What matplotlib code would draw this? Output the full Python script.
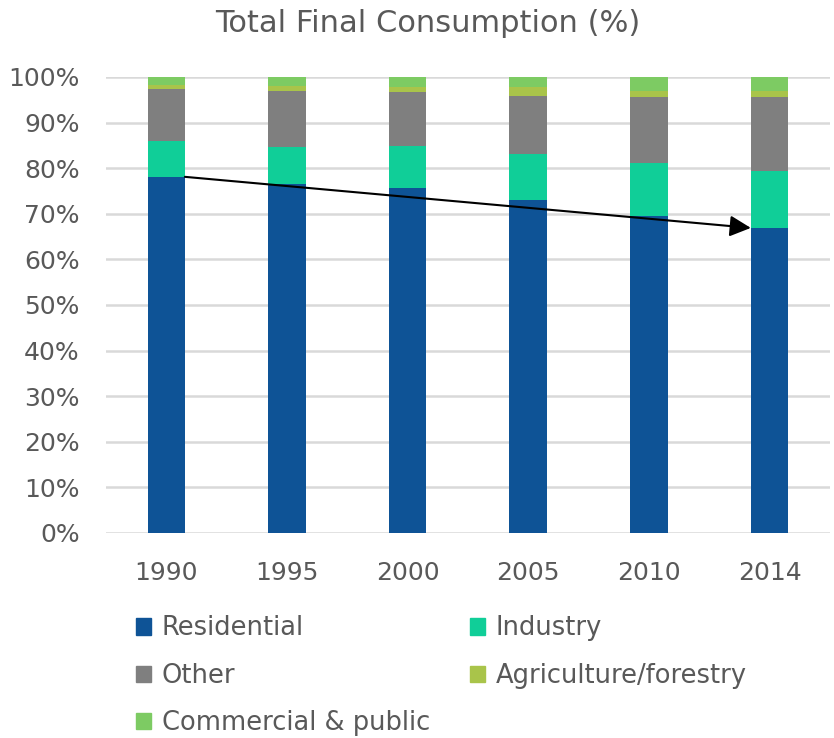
import numpy as np
import matplotlib.pyplot as plt
from matplotlib.patches import Patch

years = ['1990', '1995', '2000', '2005', '2010', '2014']
residential = [78.1, 76.5, 75.7, 73.0, 69.5, 66.9]
industry = [7.8, 8.2, 9.2, 10.0, 11.6, 12.5]
other = [11.5, 12.3, 11.7, 12.9, 14.6, 16.3]
agriculture = [0.9, 1.1, 1.3, 1.8, 1.2, 1.2]
commercial = [1.8, 1.9, 2.1, 2.3, 3.1, 3.1]

series = [('Residential', residential, '#0E5396'),
          ('Industry', industry, '#10CE98'),
          ('Other', other, '#7F7F7F'),
          ('Agriculture/forestry', agriculture, '#A9C44A'),
          ('Commercial & public', commercial, '#7DCB63')]

txt = '#595959'
plt.rcParams['font.family'] = ['DejaVu Sans']

fig = plt.figure(figsize=(8.34, 7.38), dpi=100)
ax = fig.add_axes([0.127, 0.2778, 0.868, 0.6179])

x = np.arange(len(years))
w = 0.31
bottom = np.zeros(len(years))
for name, vals, col in series:
    v = np.array(vals) / 100
    ax.bar(x, v, w, bottom=bottom, color=col, label=name, zorder=2)
    bottom += v

ax.set_ylim(0, 1)
ax.set_xlim(-0.5, len(years) - 0.5)
ax.set_yticks(np.arange(0, 1.01, 0.1))
ax.set_yticklabels([f'{int(round(t * 100))}%' for t in np.arange(0, 1.01, 0.1)])
ax.set_xticks(x)
ax.set_xticklabels(years)
ax.yaxis.grid(True, color='#D9D9D9', lw=1.8, zorder=0)
ax.set_axisbelow(True)
for s in ax.spines.values():
    s.set_visible(False)
ax.tick_params(length=0, labelsize=18, colors=txt)
ax.tick_params(axis='y', pad=19)
ax.tick_params(axis='x', pad=20)

# trend of the residential share, first to last year
ax.annotate('', xy=(x[-1] - w / 2, residential[-1] / 100),
            xytext=(x[0] + w / 2, residential[0] / 100),
            arrowprops=dict(arrowstyle='-|>', color='black', lw=1.5,
                            mutation_scale=32, shrinkA=0, shrinkB=0),
            zorder=5)

fig.text(0.513, 0.968, 'Total Final Consumption (%)', ha='center', va='center',
         fontsize=22, color=txt)

handles = {name: Patch(color=col) for name, _, col in series}
order = ['Residential', 'Other', 'Commercial & public', 'Industry', 'Agriculture/forestry']
leg = fig.legend([handles[n] for n in order], order, ncol=2,
                 loc='upper left', bbox_to_anchor=(0.163, 0.166),
                 frameon=False, fontsize=18.5, handlelength=0.6, handleheight=0.6,
                 handletextpad=0.4, labelspacing=0.83, columnspacing=1.55,
                 borderaxespad=0, borderpad=0)
for t in leg.get_texts():
    t.set_color(txt)

fig.savefig('out.png', dpi=100)
